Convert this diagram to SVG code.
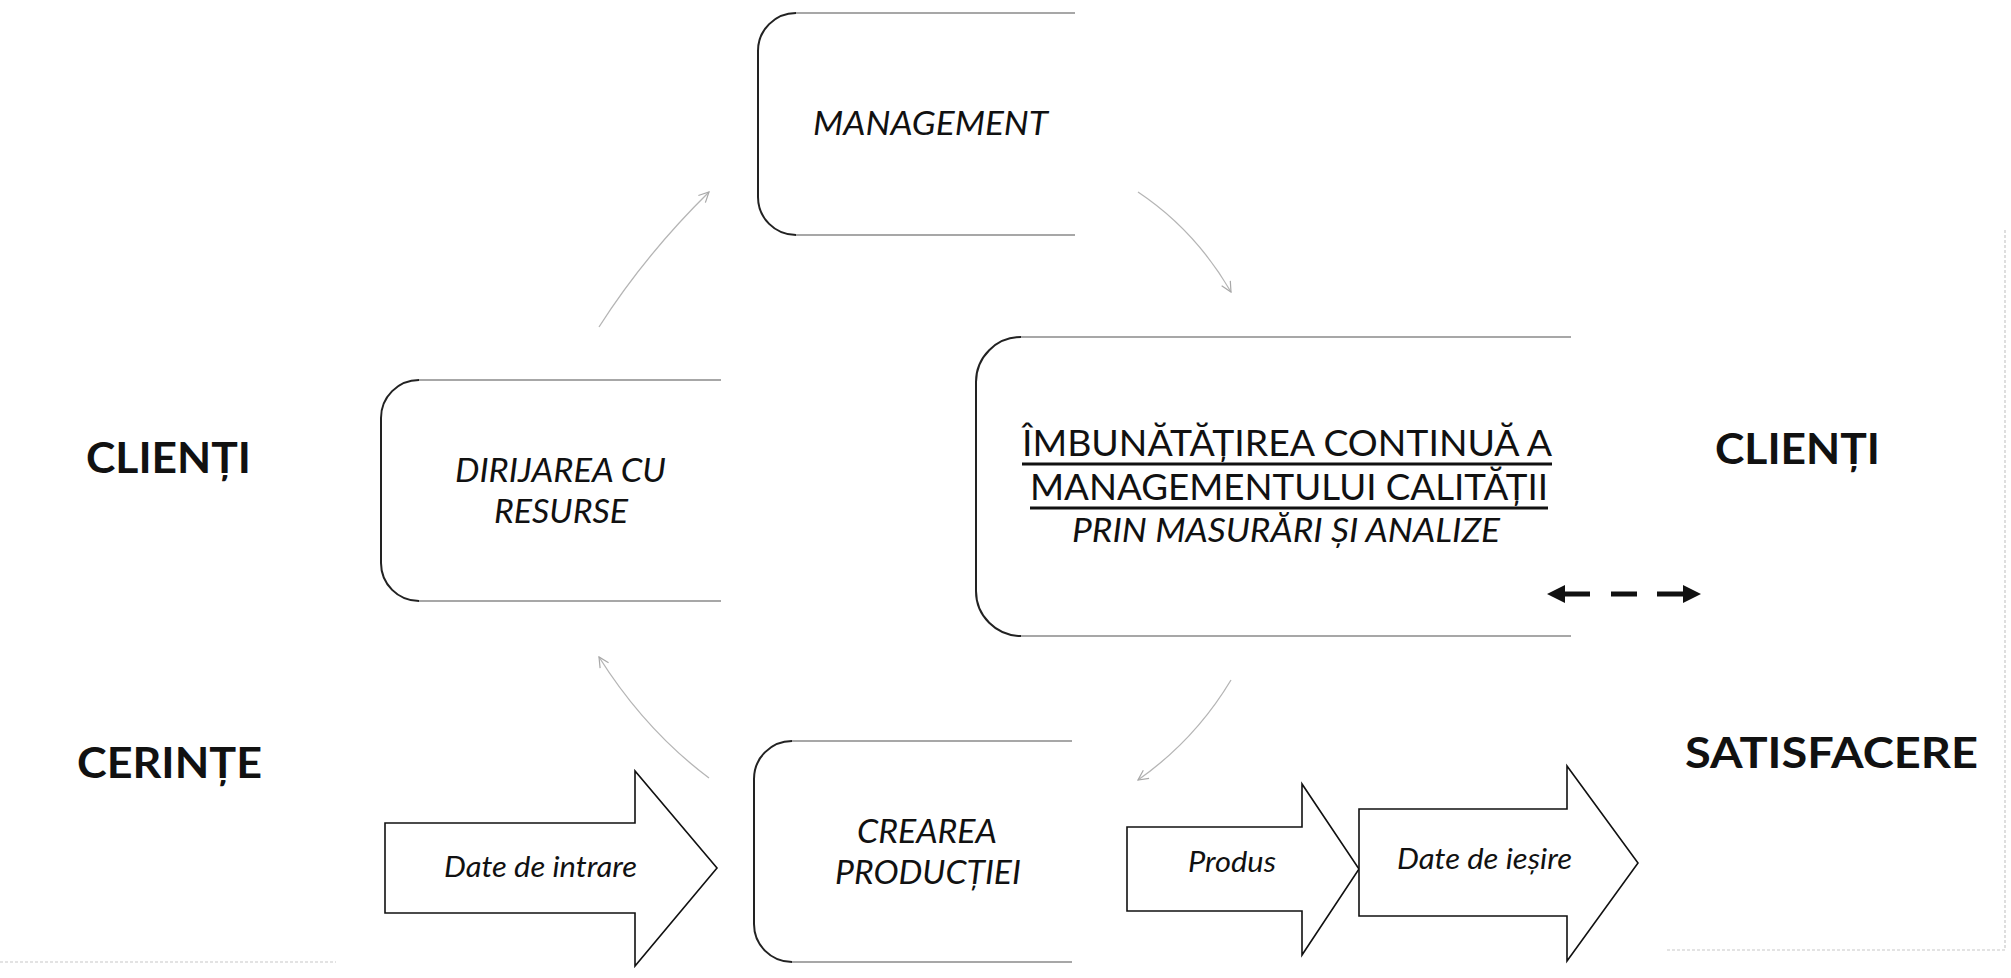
<svg xmlns="http://www.w3.org/2000/svg" width="2011" height="978" viewBox="0 0 2011 978">
<style>
.bg{fill:#fff}
.boxL{fill:none;stroke:#222;stroke-width:2}
.boxT{fill:none;stroke:#8a8a8a;stroke-width:1.6}
.lbl{font-family:Lato,"Liberation Sans",sans-serif;font-weight:bold;fill:#111}
.it{font-family:Lato,"Liberation Sans",sans-serif;font-style:italic;fill:#111}
.rg{font-family:Lato,"Liberation Sans",sans-serif;fill:#111}
.blk{fill:#fff;stroke:#111;stroke-width:1.6;stroke-linejoin:miter}
.arc{fill:none;stroke:#b5b5b5;stroke-width:1.3}
.ul{stroke:#111;stroke-width:3}
.faint{fill:none;stroke:#c8c8c8;stroke-width:1.2;stroke-dasharray:3 2}
</style>
<defs>
<marker id="ah" viewBox="0 0 12 12" refX="11" refY="6" markerWidth="12" markerHeight="12" markerUnits="userSpaceOnUse" orient="auto">
<path d="M1,1 L11,6 L1,11" fill="none" stroke="#a8a8a8" stroke-width="1.2"/>
</marker>
</defs>
<rect class="bg" x="0" y="0" width="2011" height="978"/>

<g id="scan-edges">
<path class="faint" d="M2005,230 V950 H1667"/>
<path class="faint" d="M0,962 H336"/>
</g>

<g id="labels">
<text class="lbl" x="86" y="473" font-size="42" textLength="165" lengthAdjust="spacingAndGlyphs">CLIENȚI</text>
<text class="lbl" x="77" y="778" font-size="42" textLength="185" lengthAdjust="spacingAndGlyphs">CERINȚE</text>
<text class="lbl" x="1715" y="464" font-size="42" textLength="165" lengthAdjust="spacingAndGlyphs">CLIENȚI</text>
<text class="lbl" x="1685" y="768" font-size="42" textLength="293" lengthAdjust="spacingAndGlyphs">SATISFACERE</text>
</g>

<g id="management">
<path class="boxT" d="M1075,13 H796"/>
<path class="boxL" d="M796,13 A38,38 0 0 0 758,51 V197 A38,38 0 0 0 796,235"/>
<path class="boxT" d="M796,235 H1075" stroke="#555"/>
<text class="it" x="813" y="135" font-size="33" textLength="235" lengthAdjust="spacingAndGlyphs">MANAGEMENT</text>
</g>

<g id="dirijarea">
<path class="boxT" d="M721,380 H419"/>
<path class="boxL" d="M419,380 A38,38 0 0 0 381,418 V563 A38,38 0 0 0 419,601"/>
<path class="boxT" d="M419,601 H721" stroke="#555"/>
<text class="it" x="455" y="482" font-size="33" textLength="211" lengthAdjust="spacingAndGlyphs">DIRIJAREA CU</text>
<text class="it" x="494" y="523" font-size="33" textLength="134" lengthAdjust="spacingAndGlyphs">RESURSE</text>
</g>

<g id="imbunatatirea">
<path class="boxT" d="M1571,337 H1021"/>
<path class="boxL" d="M1021,337 A45,45 0 0 0 976,382 V591 A45,45 0 0 0 1021,636"/>
<path class="boxT" d="M1021,636 H1571" stroke="#555"/>
<text class="rg" x="1022" y="456" font-size="37" textLength="530" lengthAdjust="spacingAndGlyphs">ÎMBUNĂTĂȚIREA CONTINUĂ A</text>
<line class="ul" x1="1022" y1="464" x2="1552" y2="464"/>
<text class="rg" x="1030" y="500" font-size="37" textLength="518" lengthAdjust="spacingAndGlyphs">MANAGEMENTULUI CALITĂȚII</text>
<line class="ul" x1="1030" y1="508" x2="1548" y2="508"/>
<text class="it" x="1072" y="542" font-size="33" textLength="428" lengthAdjust="spacingAndGlyphs">PRIN MASURĂRI ȘI ANALIZE</text>
</g>

<g id="crearea">
<path class="boxT" d="M1072,741 H792"/>
<path class="boxL" d="M792,741 A38,38 0 0 0 754,779 V924 A38,38 0 0 0 792,962"/>
<path class="boxT" d="M792,962 H1072" stroke="#555"/>
<text class="it" x="857" y="843" font-size="33" textLength="140" lengthAdjust="spacingAndGlyphs">CREAREA</text>
<text class="it" x="835" y="884" font-size="33" textLength="186" lengthAdjust="spacingAndGlyphs">PRODUCȚIEI</text>
</g>

<g id="date-intrare">
<polygon class="blk" points="385,823 635,823 635,771 717,868 635,966 635,913 385,913"/>
<text class="it" x="444" y="877" font-size="28" textLength="193" lengthAdjust="spacingAndGlyphs">Date de intrare</text>
</g>

<g id="produs">
<polygon class="blk" points="1127,827 1302,827 1302,784 1359,869 1302,955 1302,911 1127,911"/>
<text class="it" x="1188" y="872" font-size="28" textLength="88" lengthAdjust="spacingAndGlyphs">Produs</text>
</g>

<g id="date-iesire">
<polygon class="blk" points="1359,809 1567,809 1567,766 1638,863 1567,961 1567,916 1359,916"/>
<text class="it" x="1397" y="869" font-size="28" textLength="175" lengthAdjust="spacingAndGlyphs">Date de ieșire</text>
</g>

<g id="connectors">
<path class="arc" d="M599,327 Q645,255 709,192" marker-end="url(#ah)"/>
<path class="arc" d="M1138,192 Q1195,230 1231,292" marker-end="url(#ah)"/>
<path class="arc" d="M1231,680 Q1195,740 1138,780" marker-end="url(#ah)"/>
<path class="arc" d="M709,778 Q645,730 599,657" marker-end="url(#ah)"/>
<g id="dashed-arrow" fill="#111">
<polygon points="1547,594 1565,585 1565,591.5 1590,591.5 1590,596.5 1565,596.5 1565,603"/>
<rect x="1611" y="591.5" width="26" height="5"/>
<polygon points="1701,594 1683,585 1683,591.5 1657,591.5 1657,596.5 1683,596.5 1683,603"/>
</g>
</g>
</svg>
